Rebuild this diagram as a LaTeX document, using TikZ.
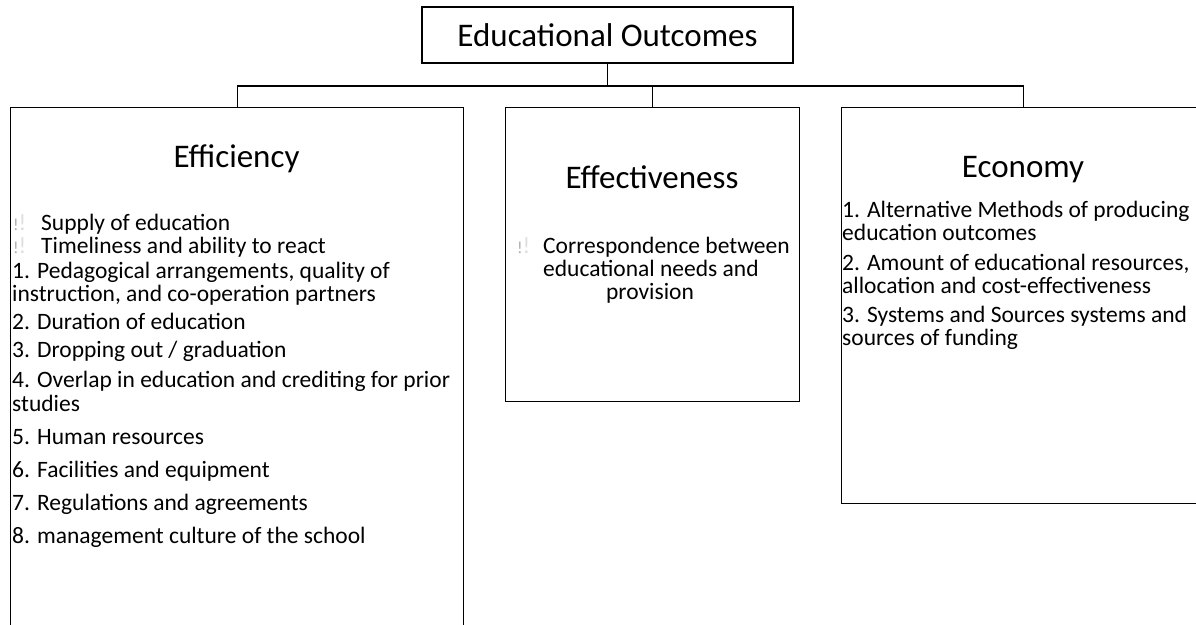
\documentclass[tikz,border=0pt]{standalone}
\usepackage{fontspec}
\setmainfont{Carlito}
\begin{document}
\begin{tikzpicture}[x=1pt,y=-1pt,
  frame/.style={draw=black, line width=1.2pt, inner sep=0pt},
  link/.style={draw=black, line width=1.2pt},
  head/.style={font=\fontsize{33}{38}\selectfont, inner sep=0pt, anchor=base},
  item/.style={font=\fontsize{23.5}{26}\selectfont, inner sep=0pt, anchor=base west},
  bulletmark/.style={inner sep=0pt, anchor=base west, font=\fontsize{23.5}{26}\selectfont}
]
\useasboundingbox (0,0) rectangle (1196,624);
\clip (0,0) rectangle (1196,624);

% boxes
\node[frame, minimum width=371pt, minimum height=56pt, font=\fontsize{33}{38}\selectfont] (top) at (607.5,35) {Educational Outcomes};
\node[frame, anchor=north west, minimum width=453pt, minimum height=560pt] (effic) at (10,107) {};
\node[frame, anchor=north west, minimum width=294pt, minimum height=294pt] (effect) at (505,107) {};
\node[frame, anchor=north west, minimum width=364pt, minimum height=396pt] (econ) at (841,107) {};

% connectors
\coordinate (bus) at (607.5,86);
\draw[link] (top.south) -- (top.south |- bus);
\draw[link] (effic.north) -- (effic.north |- bus) -- (econ.north |- bus) -- (econ.north);
\draw[link] (effect.north) -- (effect.north |- bus);

% Efficiency
\node[head] (efftitle) at (236.5,167) {Efficiency};
\node[bulletmark] (b1) at (13,230) {\textcolor{gray!65}{\fontsize{17}{17}\selectfont !}\textcolor{gray!25}{!}};
\node[item] (s1) at (41,230) {Supply of education};
\node[bulletmark] (b2) at (13,253) {\textcolor{gray!65}{\fontsize{17}{17}\selectfont !}\textcolor{gray!25}{!}};
\node[item] (s2) at (41,253) {Timeliness and ability to react};
\node[item] (e1a) at (12,278) {1. Pedagogical arrangements, quality of};
\node[item] (e1b) at (12,301) {instruction, and co-operation partners};
\node[item] (e2) at (12,329) {2. Duration of education};
\node[item] (e3) at (12,357) {3. Dropping out / graduation};
\node[item] (e4a) at (12,387) {4. Overlap in education and crediting for prior};
\node[item] (e4b) at (12,411) {studies};
\node[item] (e5) at (12,444) {5. Human resources};
\node[item] (e6) at (12,477) {6. Facilities and equipment};
\node[item] (e7) at (12,510) {7. Regulations and agreements};
\node[item] (e8) at (12,543) {8. management culture of the school};

% Effectiveness
\node[head] (etitle) at (652,188) {Effectiveness};
\node[bulletmark] (b3) at (517,253) {\textcolor{gray!65}{\fontsize{17}{17}\selectfont !}\textcolor{gray!25}{!}};
\node[item] (c1) at (543,253) {Correspondence between};
\node[item] (c2) at (543,276) {educational needs and};
\node[item, anchor=base] (c3) at (650,299) {provision};

% Economy
\node[head] (ectitle) at (1023,177) {Economy};
\node[item] (m1a) at (842,217) {1. Alternative Methods of producing};
\node[item] (m1b) at (842,240) {education outcomes};
\node[item] (m2a) at (842,270) {2. Amount of educational resources,};
\node[item] (m2b) at (842,293) {allocation and cost-effectiveness};
\node[item] (m3a) at (842,322) {3. Systems and Sources systems and};
\node[item] (m3b) at (842,345) {sources of funding};
\end{tikzpicture}
\end{document}
